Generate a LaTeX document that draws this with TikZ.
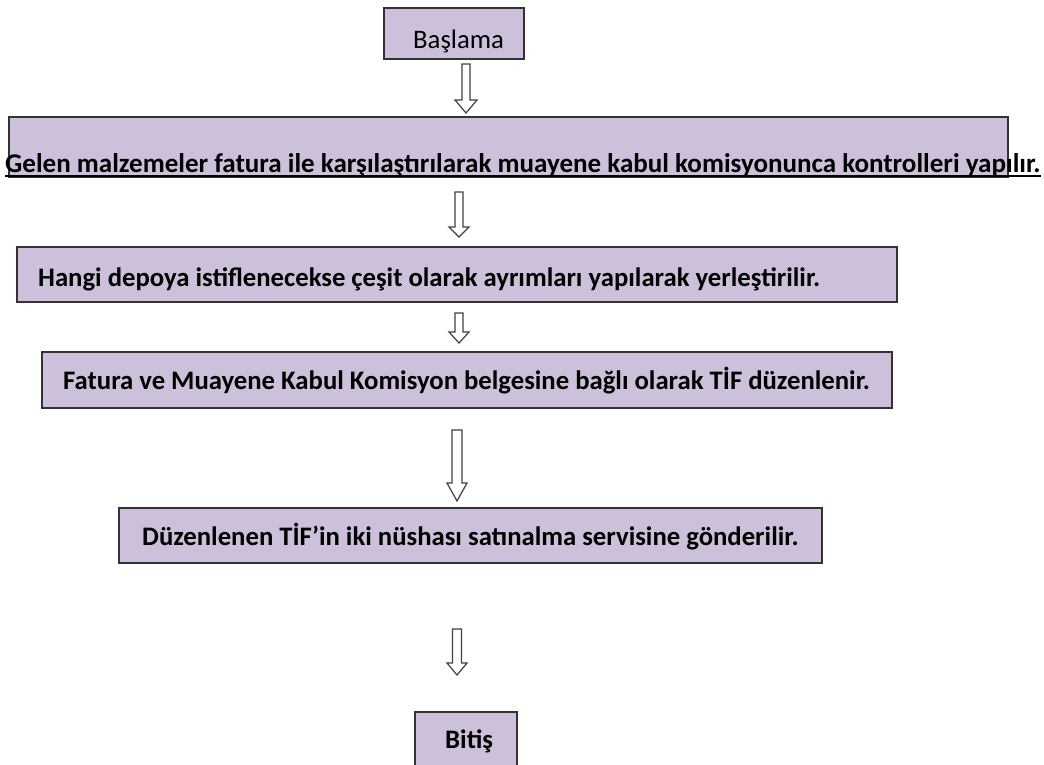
\documentclass[tikz,border=0pt]{standalone}
\usepackage{fontspec}
\setmainfont{Carlito}
\definecolor{boxfill}{HTML}{CCC0DA}
\definecolor{boxline}{HTML}{333333}
\definecolor{arrowcol}{HTML}{404040}
\begin{document}
\begin{tikzpicture}[x=1pt,y=-1pt,
  box/.style={draw=boxline, line width=1.8pt, fill=boxfill, inner sep=0pt, outer sep=0pt},
  lbl/.style={anchor=base west, inner sep=0pt, font=\fontsize{26.7}{32}\selectfont\bfseries},
  lblr/.style={anchor=base west, inner sep=0pt, font=\fontsize{26.7}{32}\selectfont},
  arrowline/.style={draw=arrowcol, line width=1.2pt, fill=white, line join=miter},
  pics/darr/.style n args={4}{code={\draw[arrowline] (-#1,0) -- (#1,0) -- (#1,#3) -- (#2,#3) -- (0,#3+#4) -- (-#2,#3) -- (-#1,#3) -- cycle;}}
]
\useasboundingbox (0,0) rectangle (1044,764);
\clip (0,0) rectangle (1044,764);

% boxes
\node[box, minimum width=140pt, minimum height=51pt] (b1) at (454,33.5) {};
\node[box, minimum width=999pt, minimum height=60pt] (b2) at (508.5,147) {};
\node[box, minimum width=880pt, minimum height=55pt] (b3) at (457,274.5) {};
\node[box, minimum width=850pt, minimum height=56pt] (b4) at (467,380) {};
\node[box, minimum width=703pt, minimum height=55pt] (b5) at (470.5,535.5) {};
\node[box, minimum width=102pt, minimum height=68pt] (b6) at (466,746) {};

% texts
\node[lblr] (t1) at (413,48) {Başlama};
\node[lbl] (t2) at (5,172) {\resizebox{1035pt}{!}{Gelen malzemeler fatura ile karşılaştırılarak muayene kabul komisyonunca kontrolleri yapılır.}};
\draw[line width=1.6pt, draw=black] ([yshift=-4pt]t2.base west) -- ([yshift=-4pt]t2.base east);
\node[lbl] (t3) at (38,286) {Hangi depoya istiflenecekse çeşit olarak ayrımları yapılarak yerleştirilir.};
\node[lbl] (t4) at (63,389) {Fatura ve Muayene Kabul Komisyon belgesine bağlı olarak TİF düzenlenir.};
\node[lbl] (t5) at (142,545) {Düzenlenen TİF’in iki nüshası satınalma servisine gönderilir.};
\node[lbl] (t6) at (445,748) {Bitiş};

% block arrows
\pic at (466,64) {darr={4}{11}{36}{13}};
\pic at (459,192) {darr={4}{10}{35}{10}};
\pic at (459,313) {darr={4}{10}{19}{11}};
\pic at (457,430) {darr={5}{10}{53}{18}};
\pic at (457,629) {darr={4.5}{10}{34}{12}};
\end{tikzpicture}
\end{document}
